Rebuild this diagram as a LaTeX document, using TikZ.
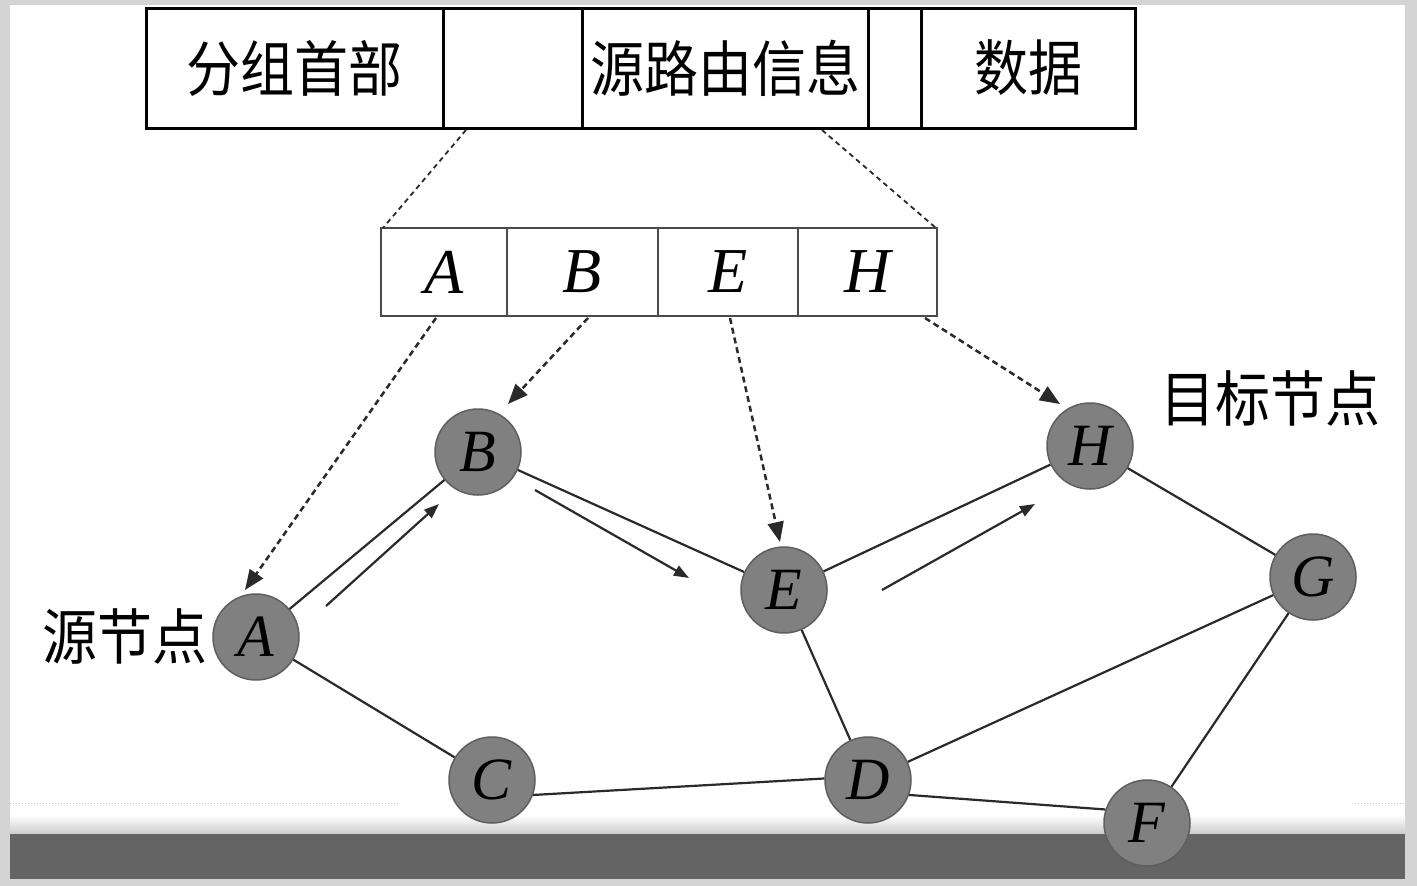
\documentclass[tikz,border=0pt]{standalone}
\usepackage{fontspec}
\setmainfont{Liberation Serif}
\newfontfamily\cjk{Noto Sans CJK SC}
\usetikzlibrary{arrows.meta}
\definecolor{bggray}{HTML}{D4D4D4}
\definecolor{bandgray}{HTML}{646464}
\definecolor{nodegray}{HTML}{808080}
\definecolor{nodeedge}{HTML}{5E5E5E}
\definecolor{linegray}{HTML}{2A2A2A}
\definecolor{boxgray}{HTML}{4A4A4A}
\begin{document}
\begin{tikzpicture}[x=1pt,y=-1pt,
  hcell/.style={rectangle,draw=black,line width=3pt,minimum height=120pt,inner sep=0pt,
    font=\cjk\fontsize{54}{54}\selectfont},
  mcell/.style={rectangle,draw=boxgray,line width=2.5pt,minimum height=88pt,inner sep=0pt,
    font=\fontsize{64}{64}\selectfont\itshape},
  nd/.style={circle,fill=nodegray,draw=nodeedge,line width=1.5pt,minimum size=86pt,inner sep=0pt,
    font=\fontsize{60}{60}\selectfont\itshape},
  edge/.style={line width=2.2pt,draw=linegray},
  flow/.style={line width=2.2pt,draw=linegray,-{Triangle[length=15pt,width=11pt]}},
  ptr/.style={line width=2.5pt,draw=linegray,dash pattern=on 6pt off 4pt,-{Triangle[length=20pt,width=16pt]}},
  zoomline/.style={line width=1.8pt,draw=linegray,dash pattern=on 5pt off 4pt},
  lbl/.style={font=\cjk\fontsize{55}{55}\selectfont,inner sep=0pt}
]
\useasboundingbox (0,0) rectangle (1417,886);
% background
\fill[bggray] (0,0) rectangle (1417,886);
\fill[white] (10,5) rectangle (1405,822);
\shade[top color=white,bottom color=gray!40] (10,815) rectangle (1405,834);
\fill[bandgray] (10,834) rectangle (1405,879);
\draw[gray!45,line width=1pt,dotted] (10,803) -- (400,803);
\draw[gray!45,line width=1pt,dotted] (1355,803) -- (1405,803);

% header packet
\node[hcell,minimum width=297pt] (h1) at (294.5,68) {\scalebox{1}[1.12]{分组首部}};
\node[hcell,minimum width=139pt] (h2) at (512.5,68) {};
\node[hcell,minimum width=286pt] (h3) at (725,68) {\scalebox{1}[1.12]{源路由信息}};
\node[hcell,minimum width=53pt] (h4) at (894.5,68) {};
\node[hcell,minimum width=214pt] (h5) at (1028,68) {\scalebox{1}[1.12]{数据}};

% route box
\node[mcell,minimum width=126pt] (mA) at (444,272) {A};
\node[mcell,minimum width=151pt] (mB) at (582.5,272) {B};
\node[mcell,minimum width=140pt] (mE) at (728,272) {E};
\node[mcell,minimum width=139pt] (mH) at (867.5,272) {H};

% zoom lines
\coordinate (z1) at (466,130);
\coordinate (z2) at (383,228);
\coordinate (z3) at (822,130);
\coordinate (z4) at (936,228);
\draw[zoomline] (z1) -- (z2);
\draw[zoomline] (z3) -- (z4);

% graph nodes
\node[nd] (A) at (256,637) {A};
\node[nd] (B) at (478,452) {B};
\node[nd] (E) at (784,590) {E};
\node[nd] (H) at (1090,446) {H};
\node[nd] (G) at (1313,577) {G};
\node[nd] (C) at (492,780) {C};
\node[nd] (D) at (868,780) {D};
\node[nd] (F) at (1147,823) {F};

% edges
\draw[edge] (A) -- (B);
\draw[edge] (B) -- (E);
\draw[edge] (E) -- (H);
\draw[edge] (H) -- (G);
\draw[edge] (A) -- (C);
\draw[edge] (C.-20) -- (D.178);
\draw[edge] (E) -- (D);
\draw[edge] (D) -- (G);
\draw[edge] (D.-20) -- (F.162);
\draw[edge] (G) -- (F);

% flow arrows
\coordinate (f1s) at (326,606); \coordinate (f1e) at (439,504);
\coordinate (f2s) at (535,490); \coordinate (f2e) at (689,578);
\coordinate (f3s) at (882,590); \coordinate (f3e) at (1035,504);
\draw[flow] (f1s) -- (f1e);
\draw[flow] (f2s) -- (f2e);
\draw[flow] (f3s) -- (f3e);

% pointer arrows
\coordinate (pA) at (436,318); \coordinate (tA) at (245,590);
\coordinate (pB) at (588,318); \coordinate (tB) at (508,404);
\coordinate (pE) at (730,318); \coordinate (tE) at (780,542);
\coordinate (pH) at (925,318); \coordinate (tH) at (1060,404);
\draw[ptr] (pA) -- (tA);
\draw[ptr] (pB) -- (tB);
\draw[ptr] (pE) -- (tE);
\draw[ptr] (pH) -- (tH);

% labels
\node[lbl] (dst) at (1270,398) {\scalebox{1}[1.1]{目标节点}};
\node[lbl] (src) at (125,637) {\scalebox{1}[1.1]{源节点}};
\end{tikzpicture}
\end{document}
